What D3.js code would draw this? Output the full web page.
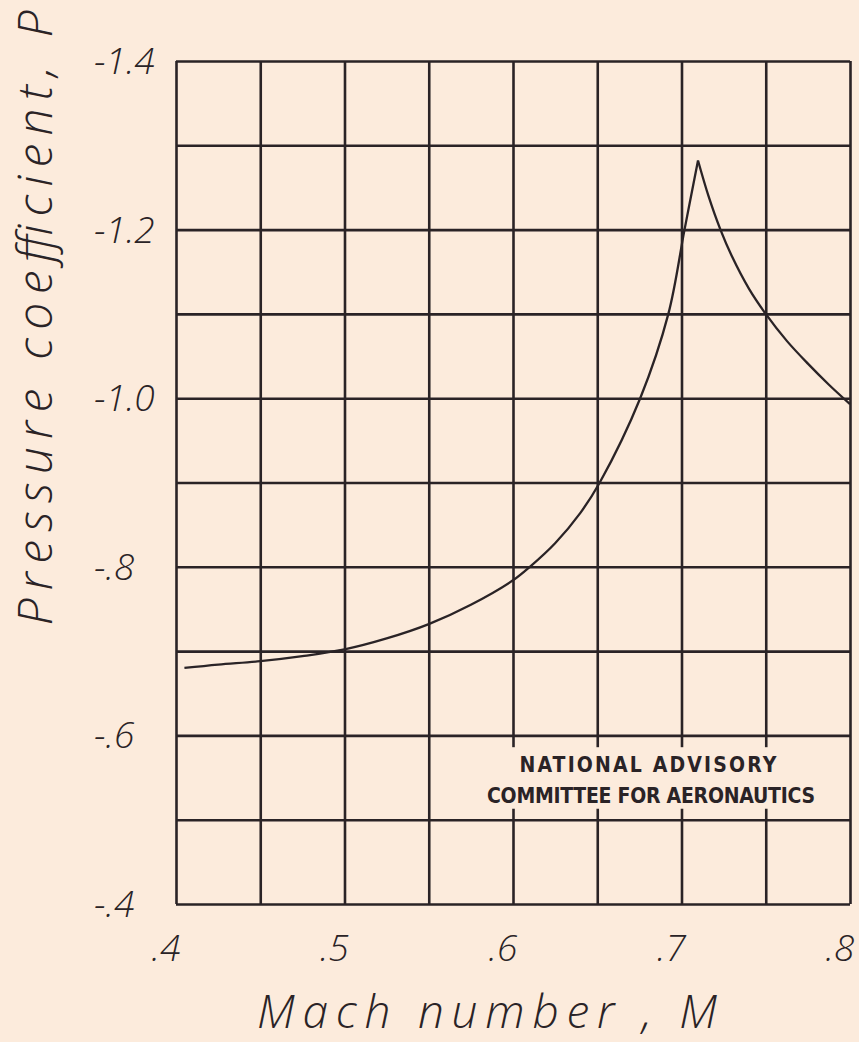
<!DOCTYPE html>
<html>
<head>
<meta charset="utf-8">
<script src="https://cdn.jsdelivr.net/npm/d3@7"></script>
<style>
  body { margin: 0; background: #fcebdc; }
  svg { display: block; }
  .grid line { stroke: #2a2326; stroke-width: 2.6; }
  .grid path { display: none; }
  .lbl { font-family: "Open Sans", "DejaVu Sans", sans-serif; font-style: italic; font-weight: 300; fill: #2a2326; }
</style>
</head>
<body>
<div id="chart"></div>
<script>
// rising branch, up to the peak (Mach number, pressure coefficient)
var machUp = [0.405, 0.425, 0.45, 0.475, 0.5, 0.525, 0.55, 0.575, 0.6, 0.61, 0.625, 0.64,
              0.6515, 0.6755, 0.6922, 0.7018, 0.7098];
var presUp = [-0.680, -0.684, -0.688, -0.694, -0.702, -0.715, -0.732, -0.755, -0.784, -0.800, -0.828, -0.864,
              -0.900, -1.000, -1.100, -1.200, -1.282];
// falling branch, from the peak to M = .8
var machDown = [0.7098, 0.716, 0.7231, 0.73, 0.74, 0.75, 0.7625, 0.775, 0.7875, 0.80];
var presDown = [-1.282, -1.240, -1.200, -1.168, -1.130, -1.100, -1.068, -1.041, -1.016, -0.993];

var xGrid = [0.4, 0.45, 0.5, 0.55, 0.6, 0.65, 0.7, 0.75, 0.8];
var yGrid = [-1.4, -1.3, -1.2, -1.1, -1.0, -0.9, -0.8, -0.7, -0.6, -0.5, -0.4];
var xTicks = [0.4, 0.5, 0.6, 0.7, 0.8];
var xTickLabels = [".4", ".5", ".6", ".7", ".8"];
var yTicks = [-1.4, -1.2, -1.0, -0.8, -0.6, -0.4];
var yTickLabels = ["-1.4", "-1.2", "-1.0", "-.8", "-.6", "-.4"];

var W = 859, H = 1042;
var pLeft = 176, pRight = 850, pTop = 61, pBottom = 904;

var x = d3.scaleLinear().domain([0.4, 0.8]).range([pLeft, pRight]);
var y = d3.scaleLinear().domain([-1.4, -0.4]).range([pTop, pBottom]);

var svg = d3.select("#chart").append("svg")
    .attr("width", W)
    .attr("height", H);

svg.append("rect").attr("width", W).attr("height", H).attr("fill", "#fcebdc");

// grid lines
svg.append("g")
    .attr("class", "grid")
    .attr("transform", "translate(0," + pBottom + ")")
    .call(d3.axisBottom(x).tickValues(xGrid).tickSize(-(pBottom - pTop)).tickFormat(""));

svg.append("g")
    .attr("class", "grid")
    .attr("transform", "translate(" + pLeft + ",0)")
    .call(d3.axisLeft(y).tickValues(yGrid).tickSize(-(pRight - pLeft)).tickFormat(""));

// box behind the NACA note
svg.append("rect")
    .attr("x", x(0.585))
    .attr("y", y(-0.586))
    .attr("width", x(0.797) - x(0.585))
    .attr("height", y(-0.513) - y(-0.586))
    .attr("fill", "#fcebdc");

// curve, drawn as two smooth branches meeting at the peak
var branches = [[machUp, presUp], [machDown, presDown]];
var line = d3.line()
    .x(function(d) { return x(d[0]); })
    .y(function(d) { return y(d[1]); })
    .curve(d3.curveCatmullRom.alpha(0.5));

svg.selectAll(".branch")
    .data(branches)
    .enter()
    .append("path")
    .attr("d", function(b) { return line(d3.zip(b[0], b[1])); })
    .attr("fill", "none")
    .attr("stroke", "#2a2326")
    .attr("stroke-width", 2.3)
    .attr("stroke-linejoin", "miter");

// tick labels
svg.selectAll(".xt")
    .data(xTicks)
    .enter()
    .append("text")
    .attr("class", "lbl")
    .attr("x", function(d) { return x(d) - 10; })
    .attr("y", 961)
    .attr("text-anchor", "middle")
    .attr("font-size", 37)
    .text(function(d, i) { return xTickLabels[i]; });

svg.selectAll(".yt")
    .data(yTicks)
    .enter()
    .append("text")
    .attr("class", "lbl")
    .attr("x", 94)
    .attr("y", function(d) { return y(d) + 13; })
    .attr("text-anchor", "start")
    .attr("font-size", 37)
    .text(function(d, i) { return yTickLabels[i]; });

// axis titles
svg.append("text")
    .attr("class", "lbl")
    .attr("x", 487)
    .attr("y", 1028)
    .attr("text-anchor", "middle")
    .attr("font-size", 46)
    .attr("textLength", 460)
    .text("Mach number , M");

svg.append("text")
    .attr("class", "lbl")
    .attr("transform", "translate(52,318) rotate(-90)")
    .attr("text-anchor", "middle")
    .attr("font-size", 48)
    .attr("textLength", 615)
    .text("Pressure  coefficient, P");

// NACA note
var note = ["NATIONAL ADVISORY", "COMMITTEE FOR AERONAUTICS"];
svg.selectAll(".note")
    .data(note)
    .enter()
    .append("text")
    .attr("x", function(d, i) { return i == 0 ? 648 : 651; })
    .attr("y", function(d, i) { return 772 + i * 31; })
    .attr("text-anchor", "middle")
    .attr("font-family", "'DejaVu Sans Condensed', 'DejaVu Sans', sans-serif")
    .attr("font-weight", "bold")
    .attr("font-size", 21)
    .attr("fill", "#2a2326")
    .attr("textLength", function(d, i) { return i == 0 ? 257 : 328; })
    .text(function(d) { return d; });
</script>
</body>
</html>
